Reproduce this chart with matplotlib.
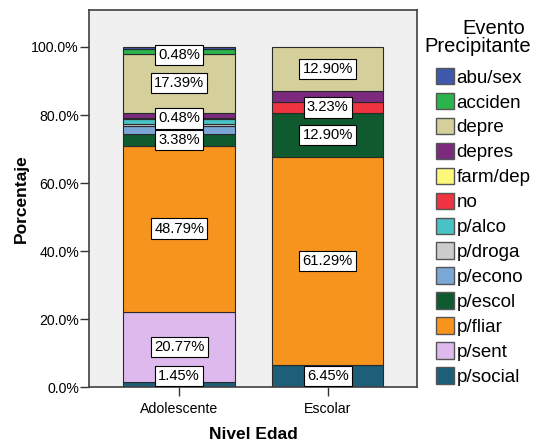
import numpy as np
import matplotlib
matplotlib.use("Agg")
import matplotlib.pyplot as plt
from matplotlib.patches import Patch

plt.rcParams['font.family'] = ['Liberation Sans', 'DejaVu Sans']

# categories on x axis
grupos = ['Adolescente', 'Escolar']

# stacking order, bottom to top
eventos = ['p/social', 'p/sent', 'p/fliar', 'p/escol', 'p/econo', 'p/droga',
           'p/alco', 'no', 'farm/dep', 'depres', 'depre', 'acciden', 'abu/sex']

colores = ['#1D5F78', '#DDB9EE', '#F7941E', '#0F5A2E', '#7BA7D7', '#CCCCCC',
           '#48C2C5', '#EF3340', '#FBF87C', '#7B2A7E', '#D4CF9B', '#2DB34B', '#3E58AC']

# percentages per event (same order as eventos)
adolescente = [1.45, 20.77, 48.79, 3.38, 2.42, 0.48, 1.45, 0.48, 0.0, 1.45, 17.39, 1.45, 0.48]
escolar = [6.45, 0.0, 61.29, 12.90, 0.0, 0.0, 0.0, 3.23, 0.0, 3.23, 12.90, 0.0, 0.0]

# which segments get a value box
etiquetas_adol = ['p/social', 'p/sent', 'p/fliar', 'p/escol', 'no', 'depre', 'abu/sex']
etiquetas_esc = ['p/social', 'p/fliar', 'p/escol', 'no', 'depre']

fig = plt.figure(figsize=(5.38, 4.43), dpi=100)
ax = fig.add_axes([0.166, 0.1257, 0.61, 0.8513])
ax.set_facecolor('#F0F0F0')

x = np.arange(len(grupos))
datos = [adolescente, escolar]
etiq = [etiquetas_adol, etiquetas_esc]

for g in range(len(grupos)):
    base = 0
    for i, ev in enumerate(eventos):
        v = datos[g][i]
        if v > 0:
            ax.bar(x[g], v, bottom=base, width=0.75, color=colores[i],
                   edgecolor='#2a2a2a', linewidth=0.8, zorder=2)
            if ev in etiq[g]:
                yc = base + v / 2
                yc = min(max(yc, 3.4), 97.6)
                ax.text(x[g], yc, f'{v:.2f}%', ha='center', va='center', fontsize=10.6,
                        zorder=4, bbox=dict(boxstyle='square,pad=0.22', fc='white',
                                            ec='black', lw=0.8))
        base += v

ax.set_xlim(-0.605, 1.605)
ax.set_ylim(0, 110.8)
ax.set_yticks([0, 20, 40, 60, 80, 100])
ax.set_yticklabels(['0.0%', '20.0%', '40.0%', '60.0%', '80.0%', '100.0%'])
ax.set_xticks(x)
ax.set_xticklabels(grupos)
ax.tick_params(axis='both', labelsize=10.2, length=6.5, width=1.0, color='#333333')
ax.tick_params(axis='y', pad=1)
ax.tick_params(axis='x', pad=4)

for s in ['top', 'right', 'left', 'bottom']:
    ax.spines[s].set_color('#404040')
    ax.spines[s].set_linewidth(1.2)

ax.set_ylabel('Porcentaje', fontsize=12.5, fontweight='bold', labelpad=2)
ax.set_xlabel('Nivel Edad', fontsize=12.5, fontweight='bold', labelpad=8)

# legend title, two centered lines
fig.text(494 / 538, 1 - 28 / 443, 'Evento', ha='center', va='center', fontsize=14.5)
fig.text(478 / 538, 1 - 47 / 443, 'Precipitante', ha='center', va='center', fontsize=14.5)

# legend, top to bottom is reverse stacking order
handles = [Patch(facecolor=colores[i], edgecolor='#555555', label=eventos[i])
           for i in range(len(eventos) - 1, -1, -1)]
leg = fig.legend(handles=handles, loc='upper left',
                 bbox_to_anchor=(435.7 / 538, 1 - 68 / 443), frameon=False, fontsize=13.5,
                 handlelength=0.97, handleheight=0.97, borderpad=0,
                 handletextpad=0.14, labelspacing=0.335, borderaxespad=0)

fig.savefig('out.png', dpi=100)
